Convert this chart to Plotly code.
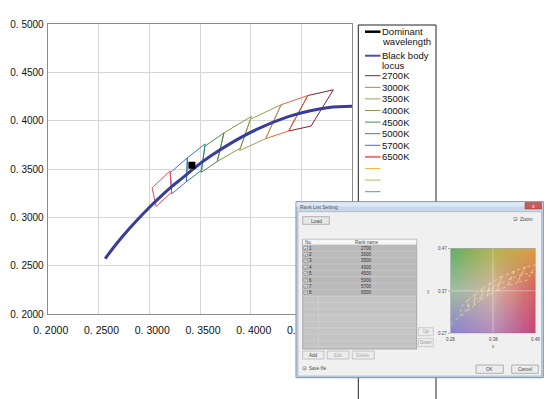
import numpy as np
import plotly.graph_objects as go

FONT = "Liberation Sans, Arial, sans-serif"

# ---------------- data ----------------
locus_x = [0.2566, 0.2637, 0.2714, 0.2807, 0.2952, 0.3135, 0.3221, 0.3325,
           0.3451, 0.3608, 0.3805, 0.4053, 0.4369, 0.4599, 0.4770, 0.5000]
locus_y = [0.2572, 0.2672, 0.2773, 0.2887, 0.3050, 0.3237, 0.3318, 0.3406,
           0.3516, 0.3636, 0.3768, 0.3907, 0.4041, 0.4106, 0.4137, 0.4150]

dominant_x = [0.342]
dominant_y = [0.354]

cct_labels = ["2700K", "3000K", "3500K", "4000K", "4500K", "5000K", "5700K", "6500K"]
quad_x = [
    [0.4813, 0.4562, 0.4373, 0.4593],
    [0.4562, 0.4299, 0.4147, 0.4373],
    [0.4299, 0.3996, 0.3889, 0.4147],
    [0.4006, 0.3736, 0.3670, 0.3898],
    [0.3736, 0.3548, 0.3512, 0.3670],
    [0.3551, 0.3376, 0.3366, 0.3515],
    [0.3376, 0.3207, 0.3222, 0.3366],
    [0.3205, 0.3028, 0.3068, 0.3221],
]
quad_y = [
    [0.4319, 0.4260, 0.3893, 0.3944],
    [0.4260, 0.4165, 0.3814, 0.3893],
    [0.4165, 0.4015, 0.3690, 0.3814],
    [0.4044, 0.3874, 0.3578, 0.3716],
    [0.3874, 0.3736, 0.3465, 0.3578],
    [0.3760, 0.3616, 0.3369, 0.3487],
    [0.3616, 0.3462, 0.3243, 0.3369],
    [0.3481, 0.3304, 0.3113, 0.3261],
]
cct_colors = ["#7a1f33", "#e8643c", "#a39c5a", "#8c9850", "#4c8a52",
              "#2a8a8a", "#4a6cc4", "#e0485a"]
extra_legend_colors = ["#f0b848", "#a8c468", "#58a478"]

tick_vals = [0.20, 0.25, 0.30, 0.35, 0.40, 0.45, 0.50]
tick_text = ["0. 2000", "0. 2500", "0. 3000", "0. 3500", "0. 4000", "0. 4500", "0. 5000"]

rank_rows = ["2700", "3000", "3500", "4000", "4500", "5000", "5700", "6500"]
inset_xticks = ["0.28", "0.38", "0.48"]
inset_yticks = ["0.47", "0.37", "0.27"]

# gradient control colours of the small chromaticity picture (bottom row first)
grad_colors = [
    [(140, 130, 210), (182, 142, 190), (200, 70, 124)],
    [(158, 190, 162), (212, 180, 164), (212, 96, 96)],
    [(98, 176, 98), (180, 180, 80), (220, 160, 64)],
]

# page offset of the plot div (browser body margin) and window size
OX, OY = 8, 8
WIN_W, WIN_H = 552, 399
W, H = WIN_W - OX, WIN_H - OY


def dx(px):
    return (px - OX) / W


def dy(py):
    return 1 - (py - OY) / H


fig = go.Figure()

# ---------------- main chart ----------------
for i, lab in enumerate(cct_labels):
    fig.add_trace(go.Scatter(
        x=quad_x[i] + [quad_x[i][0]], y=quad_y[i] + [quad_y[i][0]],
        mode="lines", line=dict(color=cct_colors[i], width=1),
        name=lab, xaxis="x", yaxis="y", showlegend=False, hoverinfo="skip"))

fig.add_trace(go.Scatter(
    x=locus_x, y=locus_y, mode="lines",
    line=dict(color="#383c9a", width=3, shape="spline", smoothing=1.0),
    name="Black body locus", xaxis="x", yaxis="y", showlegend=False))

fig.add_trace(go.Scatter(
    x=dominant_x, y=dominant_y, mode="markers",
    marker=dict(symbol="square", size=7, color="black"),
    name="Dominant wavelength", xaxis="x", yaxis="y", showlegend=False))

shapes = []
annots = []


def rect(x0, y0, x1, y1, fill, line=None, lw=1):
    shapes.append(dict(type="rect", xref="x2", yref="y2", x0=x0, y0=y0, x1=x1, y1=y1,
                       fillcolor=fill, layer="below",
                       line=dict(color=line if line else fill, width=lw if line else 0)))


def seg(x0, y0, x1, y1, color, lw=1):
    shapes.append(dict(type="line", xref="x2", yref="y2", x0=x0, y0=y0, x1=x1, y1=y1,
                       layer="below", line=dict(color=color, width=lw)))


def text(x, y, s, size=5, color="#4a4a4a", xanchor="left"):
    annots.append(dict(xref="x2", yref="y2", x=x, y=y, text=s, showarrow=False,
                       xanchor=xanchor, yanchor="middle", borderpad=0,
                       font=dict(size=size, color=color, family=FONT)))


# ---------------- manual legend ----------------
rect(358.3, 25, 436, 420, "white", "#222222", 1)
legend_entries = [
    ("Dominant", "black", 2.5, 31.7, True),
    ("wavelength", None, 0, 41.0, False),
    ("Black body", "#4a50a8", 2, 55.7, True),
    ("locus", None, 0, 65.0, False),
]
for lab, col, lw, yy, sw in legend_entries:
    if sw:
        seg(365, yy, 380.5, yy, col, lw)
    text(380.5, yy, lab, size=9.5, color="#111111")
for i, lab in enumerate(cct_labels):
    yy = 75.7 + 11.6 * i
    seg(365, yy, 380.5, yy, "#e87878" if lab == "6500K" else cct_colors[i],
        2 if lab == "6500K" else 1)
    text(380.5, yy, lab, size=9.5, color="#111111")
for j, col in enumerate(extra_legend_colors):
    yy = 75.7 + 11.6 * (len(cct_labels) + j)
    seg(365, yy, 380.5, yy, col, 1)

# ---------------- dialog screenshot ----------------
rect(296, 201.7, 543.3, 377.7, "#c6d8ec", "#7a8ea8", 1)
rect(296.5, 202.2, 542.8, 206.5, "#dce8f5")
rect(298, 211.7, 541.5, 376, "#f0f0f0", "#9aa8b8", 0.6)
text(299, 206.7, "Rank List Setting", size=5, color="#555555")
rect(525, 202.5, 541.7, 209, "#c85a58", "#8a3a3a", 0.5)
text(533.3, 205.7, "x", size=5, color="white", xanchor="center")

# Load button
rect(302.7, 216.7, 329.3, 224.3, "#e8e8e8", "#8a8a8a", 0.6)
text(316, 220.5, "Load", size=5, xanchor="center")
# Zoom checkbox
rect(514, 217.5, 517, 220.5, "white", "#666666", 0.5)
text(515.5, 219, "✓", size=4, color="#333333", xanchor="center")
text(518.5, 219, "Zoom", size=5)

# table
rect(302.7, 239.3, 416.7, 349, "#c4c4c4", "#8a8a8a", 0.6)
rect(303, 239.5, 416.4, 245, "#f6f6f6")
seg(303, 245, 416.4, 245, "#9a9a9a", 0.5)
seg(318.3, 239.5, 318.3, 349, "#dadada", 0.5)
text(304, 242.2, "No.", size=4.5)
text(366.7, 242.2, "Rank name", size=4.5, xanchor="center")
row_h = 6.375
for i, v in enumerate(rank_rows):
    y0 = 245 + i * row_h
    rect(303, y0, 416.4, y0 + row_h, "#bababa")
    seg(303, y0 + row_h, 416.4, y0 + row_h, "#dedede", 0.5)
    rect(304, y0 + 1.4, 307.4, y0 + 4.8, "#f4f4f4", "#555555", 0.4)
    text(305.7, y0 + 3.1, "✓", size=4, color="#333333", xanchor="center")
    text(308, y0 + 3.2, str(i + 1), size=4.5, color="#333333")
    text(366.7, y0 + 3.2, v, size=4.5, color="#333333", xanchor="center")
for k in range(1, 9):
    yy = 296 + k * row_h
    if yy < 349:
        seg(303, yy, 416.4, yy, "#d4d4d4", 0.5)

# Up / Down
rect(418.3, 327.7, 433.3, 335.7, "#ececec", "#a8a8a8", 0.5)
text(425.8, 331.7, "Up", size=4.5, color="#999999", xanchor="center")
rect(418.3, 338.3, 433.3, 346.7, "#ececec", "#a8a8a8", 0.5)
text(425.8, 342.5, "Down", size=4.5, color="#999999", xanchor="center")

# Add / Edit / Delete
for (x0, x1, lab, col) in [(302.7, 324, "Add", "#444444"),
                           (327.3, 349, "Edit", "#aaaaaa"),
                           (352.3, 374.3, "Delete", "#aaaaaa")]:
    rect(x0, 351, x1, 359, "#ececec", "#9a9a9a", 0.5)
    text((x0 + x1) / 2, 355, lab, size=4.5, color=col, xanchor="center")

# Save file checkbox
rect(303, 366.8, 306, 369.8, "white", "#666666", 0.5)
text(304.5, 368.3, "✓", size=4, color="#333333", xanchor="center")
text(307.5, 368.3, "Save file", size=4.5)

# OK / Cancel
rect(476, 365, 503.3, 373.3, "#ececec", "#8a8a8a", 0.6)
text(489.6, 369.2, "OK", size=4.5, xanchor="center")
rect(511.7, 365, 538.3, 373.3, "#ececec", "#8a8a8a", 0.6)
text(525, 369.2, "Cancel", size=4.5, xanchor="center")

# inset tick labels
for lab, yy in zip(inset_yticks, [248.5, 291, 333.3]):
    text(447.5, yy, lab, size=4.5, xanchor="right")
    seg(448, yy, 450, yy, "#666666", 0.5)
for lab, xx in zip(inset_xticks, [450, 493, 535]):
    text(xx, 339.5, lab, size=4.5, xanchor="center")
text(428, 291, "y", size=4.5, xanchor="center")
text(493, 346.5, "x", size=4.5, xanchor="center")

# ---------------- inset chromaticity picture ----------------
g = np.array(grad_colors, dtype=float)          # 3 x 3 x 3 (row = y, bottom first)
n = 40
t = np.linspace(0, 2, n)
i0 = np.clip(np.floor(t).astype(int), 0, 1)
f = t - i0
rows = g[i0] * (1 - f)[:, None, None] + g[i0 + 1] * f[:, None, None]
img = rows[:, i0] * (1 - f)[None, :, None] + rows[:, i0 + 1] * f[None, :, None]
fig.add_trace(go.Image(z=img.astype(np.uint8), x0=0.28 + 0.1 / n, dx=0.2 / n,
                       y0=0.27 + 0.1 / n, dy=0.2 / n, xaxis="x3", yaxis="y3",
                       hoverinfo="skip"))
for i in range(len(cct_labels)):
    fig.add_trace(go.Scatter(
        x=quad_x[i] + [quad_x[i][0]], y=quad_y[i] + [quad_y[i][0]], mode="lines",
        line=dict(color="rgba(250,238,170,0.75)", width=0.8, dash="dot"),
        xaxis="x3", yaxis="y3", showlegend=False, hoverinfo="skip"))
fig.add_trace(go.Scatter(
    x=locus_x, y=locus_y, mode="lines",
    line=dict(color="rgba(250,238,170,0.75)", width=0.8, dash="dot", shape="spline"),
    xaxis="x3", yaxis="y3", showlegend=False, hoverinfo="skip"))
shapes.append(dict(type="line", xref="x3", yref="y3", x0=0.38, x1=0.38, y0=0.27, y1=0.47,
                   layer="above", line=dict(color="rgba(255,255,255,0.45)", width=0.8)))
shapes.append(dict(type="line", xref="x3", yref="y3", x0=0.28, x1=0.48, y0=0.37, y1=0.37,
                   layer="above", line=dict(color="rgba(255,255,255,0.45)", width=0.8)))
shapes.append(dict(type="rect", xref="x3", yref="y3", x0=0.28, x1=0.48, y0=0.27, y1=0.47,
                   layer="above", line=dict(color="#7a7a7a", width=0.7)))

x_font = dict(family=FONT, size=10.5, color="#111111")
y_font = dict(family=FONT, size=10, color="#111111")
fig.update_layout(
    width=W, height=H, margin=dict(l=0, r=0, t=0, b=0),
    paper_bgcolor="white", plot_bgcolor="rgba(0,0,0,0)", showlegend=False,
    xaxis=dict(domain=[dx(47.7), dx(352.3)], range=[0.2, 0.5], tickvals=tick_vals,
               ticktext=tick_text, showgrid=True, gridcolor="#d6d6d6", gridwidth=1,
               showline=True, linecolor="#8c8c8c", mirror=True, zeroline=False,
               ticks="", tickfont=x_font, automargin=False, anchor="y",
               ticklabelshift=3, ticklabelstandoff=6, fixedrange=True),
    yaxis=dict(domain=[dy(314), dy(24)], range=[0.2, 0.5], tickvals=tick_vals,
               ticktext=tick_text, showgrid=True, gridcolor="#d6d6d6", gridwidth=1,
               showline=True, linecolor="#8c8c8c", mirror=True, zeroline=False,
               ticks="", tickfont=y_font, automargin=False, anchor="x",
               ticklabelstandoff=1, fixedrange=True),
    xaxis2=dict(domain=[0, 1], range=[OX, WIN_W], visible=False, showgrid=False,
                zeroline=False, anchor="y2", fixedrange=True),
    yaxis2=dict(domain=[0, 1], range=[WIN_H, OY], visible=False, showgrid=False,
                zeroline=False, anchor="x2", fixedrange=True),
    xaxis3=dict(domain=[dx(450), dx(536)], range=[0.28, 0.48], visible=False,
                showgrid=False, zeroline=False, anchor="y3", fixedrange=True),
    yaxis3=dict(domain=[dy(333.3), dy(248.3)], range=[0.27, 0.47], visible=False,
                showgrid=False, zeroline=False, anchor="x3", fixedrange=True,
                autorange=False),
    shapes=shapes, annotations=annots,
)
fig.write_html("out.html")
